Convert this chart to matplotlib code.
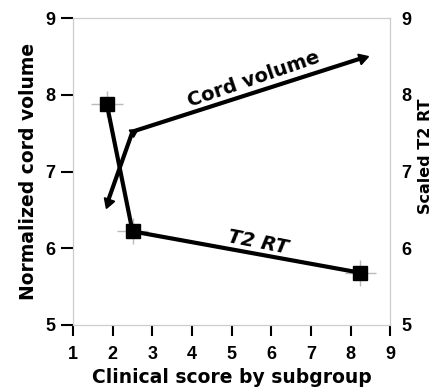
import matplotlib
matplotlib.use('AGG')
import matplotlib.pyplot as plt
import numpy as np

# data
score_t2 = [1.85, 2.5, 8.25]
t2_rt = [7.88, 6.22, 5.68]
t2_xerr = [0.4, 0.4, 0.4]
t2_yerr = [0.17, 0.17, 0.17]

score_cord = [1.87, 2.5, 8.3]
cord_vol = [6.6, 7.52, 8.48]

xticks = [1, 2, 3, 4, 5, 6, 7, 8, 9]
yticks = [5, 6, 7, 8, 9]

plt.rcParams['font.family'] = 'Liberation Sans'
plt.rcParams['font.weight'] = 'bold'

fig = plt.figure(figsize=(4.35, 3.92), dpi=100)
ax1 = fig.add_axes([0.168, 0.171, 0.729, 0.783])

ax1.set_xlim(1, 9)
ax1.set_ylim(5, 9)
ax2 = ax1.twinx()
ax2.set_ylim(5, 9)

# T2 RT with error crosses
ax1.errorbar(score_t2, t2_rt, xerr=t2_xerr, yerr=t2_yerr, fmt='none',
             ecolor='#bbbbbb', elinewidth=1, capsize=0, zorder=1)
ax1.plot(score_t2, t2_rt, color='k', linewidth=3, marker='s', markersize=10,
         zorder=3)

# cord volume with arrow-like triangle markers
ax1.plot(score_cord, cord_vol, color='k', linewidth=3, zorder=3)
tr = ax1.transData
pts = tr.transform(np.column_stack([score_cord, cord_vol]))
d_start = pts[0] - pts[1]
d_end = pts[2] - pts[1]
for i, d in [(0, d_start), (2, d_end)]:
    ang = np.degrees(np.arctan2(d[1], d[0])) - 90
    ax1.plot(score_cord[i], cord_vol[i], marker=(3, 0, ang), color='k',
             markersize=9, zorder=4)
ax1.plot(score_cord[1], cord_vol[1], marker=(3, 0, 180), color='k',
         markersize=7, zorder=4)

ax1.text(5.55, 8.2, 'Cord volume', rotation=19, fontsize=14,
         family='DejaVu Sans', ha='center', va='center')
ax1.text(5.67, 6.07, 'T2 RT', rotation=-11, fontsize=14, style='italic',
         family='DejaVu Sans', ha='center', va='center')

ax1.set_xticks(xticks)
ax1.set_yticks(yticks)
ax2.set_yticks(yticks)
for s in list(ax1.spines.values()) + list(ax2.spines.values()):
    s.set_color('#cccccc')
ax1.tick_params(direction='out', length=9, width=1.5, colors='k',
                labelsize=13, pad=4)
ax1.tick_params(axis='x', length=8, pad=7)
ax2.tick_params(direction='out', length=0, colors='k', labelsize=13, pad=8)
for lbl in ax1.get_xticklabels() + ax1.get_yticklabels() + ax2.get_yticklabels():
    lbl.set_fontweight('bold')

lab = dict(fontsize=13.5, fontweight='bold', family='DejaVu Sans')
ax1.set_xlabel('Clinical score by subgroup', labelpad=4, **lab)
ax1.set_ylabel('Normalized cord volume', labelpad=5, **lab)
ax2.set_ylabel('Scaled T2 RT', fontsize=11.5, fontweight='bold',
               family='DejaVu Sans', va='center')
ax2.yaxis.set_label_coords(1.11, 0.55)

plt.savefig('out.png', dpi=100)
